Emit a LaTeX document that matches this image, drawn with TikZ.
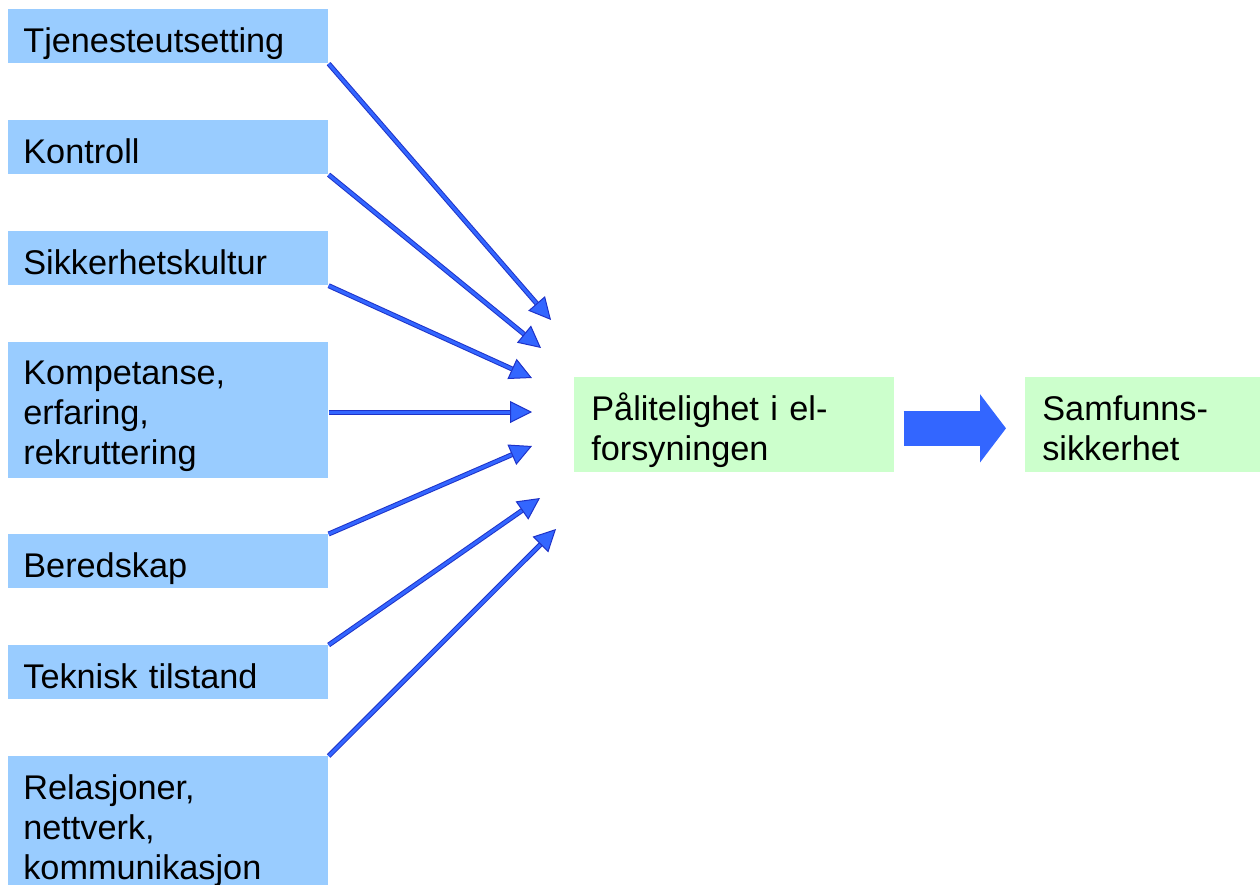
\documentclass[tikz,border=0pt]{standalone}
\usepackage{fontspec}
\setmainfont{Liberation Sans}
\usetikzlibrary{arrows.meta}
\definecolor{boxblau}{HTML}{99CCFF}
\definecolor{boxgruen}{HTML}{CCFFCC}
\definecolor{pfeilblau}{HTML}{3366FF}
\definecolor{randblau}{RGB}{30,50,200}
\tikzset{
  faktor/.style={anchor=north west, fill=boxblau, text width=5.8cm, inner xsep=0.3cm, inner ysep=0pt,
    minimum width=6.4cm, text height=0.86cm, text depth=0.22cm, align=left,
    font=\fontsize{19.5}{22.76}\selectfont},
  resultat/.style={anchor=north west, fill=boxgruen, inner xsep=0.34cm, inner ysep=0pt,
    text height=0.86cm, text depth=1.04cm, align=left, font=\fontsize{19.5}{22.76}\selectfont},
  pfeil/.style={draw=randblau, line width=0.02cm, double=pfeilblau, double distance=0.06cm,
    -{Triangle[length=0.44cm,width=0.44cm,fill=pfeilblau]}}
}
\begin{document}
\begin{tikzpicture}[x=0.02cm,y=-0.02cm]
    \clip (0,0) rectangle (1260,885);
    \fill[white] (0,0) rectangle (1260,885);

    %Faktoren
    \node[faktor] (tje) at (8,9) {Tjenesteutsetting};
    \node[faktor] (kon) at (8,120) {Kontroll};
    \node[faktor] (sik) at (8,231) {Sikkerhetskultur};
    \node[faktor, text height=0.84cm, text depth=1.88cm] (kom) at (8,342) {Kompetanse,\\erfaring,\\rekruttering};
    \node[faktor] (ber) at (8,534) {Beredskap};
    \node[faktor] (tek) at (8,645) {Teknisk tilstand};
    \node[faktor, text depth=2.0cm] (rel) at (8,756) {Relasjoner,\\nettverk,\\kommunikasjon};

    %Ergebnis
    \node[resultat, text width=5.72cm] (pal) at (574,377) {Pålitelighet i el-\\forsyningen};
    \node[resultat, text width=4.02cm] (sam) at (1025,377) {Samfunns-\\sikkerhet};

    %Pfeilspitzen
    \coordinate (z1) at (551,320);
    \coordinate (z2) at (541,348);
    \coordinate (z3) at (532,378);
    \coordinate (z4) at (532,412);
    \coordinate (z5) at (532,446);
    \coordinate (z6) at (540,498);
    \coordinate (z7) at (556,529);

    %Pfeile
    \draw[pfeil] (tje.south east) -- (z1);
    \draw[pfeil] (kon.south east) -- (z2);
    \draw[pfeil] (sik.south east) -- (z3);
    \draw[pfeil] (kom.east |- z4) -- (z4);
    \draw[pfeil] (ber.north east) -- (z5);
    \draw[pfeil] (tek.north east) -- (z6);
    \draw[pfeil] (rel.north east) -- (z7);

    \draw[pfeilblau, line width=0.7cm, -{Triangle[length=0.52cm,width=1.34cm]}]
      ([xshift=0.18cm,yshift=-0.07cm]pal.east) -- ([xshift=-0.38cm,yshift=-0.07cm]sam.west);
\end{tikzpicture}
\end{document}
